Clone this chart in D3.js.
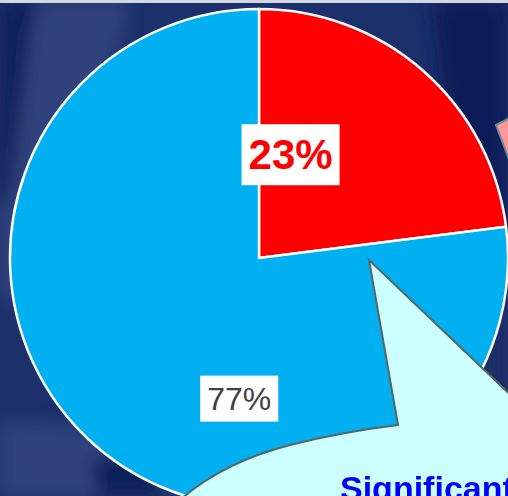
<!DOCTYPE html>
<html>
<head>
<meta charset="utf-8">
<script src="https://cdn.jsdelivr.net/npm/d3@7"></script>
<style>
  html, body { margin: 0; padding: 0; background: #1b2f6b; overflow: hidden; }
  svg { display: block; }
</style>
</head>
<body>
<div id="container"></div>
<script>
/* DATA */
const categories = ["Significant", "Other"];
const values = [23, 77];
const labels = ["23%", "77%"];
const colors = ["#ff0000", "#00b0f0"];

/* CONSTANTS */
const width = 508;
const height = 496;
const cx = 259, cy = 258, radius = 249;

const svg = d3.select("#container")
  .append("svg")
  .attr("width", width)
  .attr("height", height);

const defs = svg.append("defs");
defs.append("filter").attr("id", "blur")
  .attr("x", "-50%").attr("y", "-50%").attr("width", "200%").attr("height", "200%")
  .append("feGaussianBlur").attr("stdDeviation", 9);

// background: dark navy sky with some lighter streaks
svg.append("rect")
  .attr("width", width).attr("height", height)
  .attr("fill", "#1c306c");

const streaks = svg.append("g").attr("filter", "url(#blur)");
// light-ish diagonal bands
streaks.append("path").attr("d", "M40,0 L130,0 L60,300 L0,300 L0,150 Z").attr("fill", "#33477f").attr("opacity", 0.8);
streaks.append("path").attr("d", "M0,420 L140,430 L200,496 L0,496 Z").attr("fill", "#34487f").attr("opacity", 0.8);
// dark bands
streaks.append("path").attr("d", "M0,0 L35,0 L10,200 L0,200 Z").attr("fill", "#0c2058");
streaks.append("path").attr("d", "M430,0 L508,0 L508,300 L470,300 Z").attr("fill", "#0b1f58");
streaks.append("path").attr("d", "M90,460 L140,450 L170,496 L100,496 Z").attr("fill", "#0d2058");
streaks.append("path").attr("d", "M470,300 L508,300 L508,420 L480,420 Z").attr("fill", "#1a2d68");

// light strip at top
svg.append("rect").attr("width", width).attr("height", 3).attr("fill", "#d3d7df");

/* PIE */
const pie = d3.pie().sort(null).value(d => d)(values);
const arc = d3.arc().innerRadius(0).outerRadius(radius);

const g = svg.append("g").attr("transform", `translate(${cx},${cy})`);

g.selectAll("path.slice")
  .data(pie)
  .join("path")
  .attr("class", "slice")
  .attr("d", arc)
  .attr("fill", (d, i) => colors[i])
  .attr("stroke", "#ffffff")
  .attr("stroke-width", 2.5)
  .attr("stroke-linejoin", "round");

// labels: placed along polar offsets from centre
const labelPolar = [
  { angle: 17, r: 108, size: 42, weight: "bold", color: "#ff0000", padX: 7, padY: 11 },
  { angle: 188, r: 142, size: 32, weight: "normal", color: "#404040", padX: 7, padY: 9 }
];

pie.forEach((d, i) => {
  const p = labelPolar[i];
  const a = p.angle * Math.PI / 180;
  const x = Math.sin(a) * p.r;
  const y = -Math.cos(a) * p.r;
  const lg = g.append("g").attr("transform", `translate(${x},${y})`);
  const t = lg.append("text")
    .attr("text-anchor", "middle")
    .attr("dominant-baseline", "central")
    .attr("font-family", "Liberation Sans, Arial, sans-serif")
    .attr("font-size", p.size)
    .attr("font-weight", p.weight)
    .attr("fill", p.color)
    .text(labels[i]);
  const bb = t.node().getBBox();
  lg.insert("rect", "text")
    .attr("x", bb.x - p.padX)
    .attr("y", -bb.height / 2 - p.padY + 4)
    .attr("width", bb.width + p.padX * 2)
    .attr("height", bb.height + p.padY * 2 - 8)
    .attr("fill", "#ffffff");
});

/* CALLOUTS */
// pink callout pointer at right edge
svg.append("path")
  .attr("d", "M510,118 L496,125 L510,162")
  .attr("fill", "#ff9999")
  .attr("stroke", "#6f8f8f")
  .attr("stroke-width", 2);

// cyan speech bubble pointing at the red slice
svg.append("path")
  .attr("d", "M180,500 C205,478 240,458 290,445 C330,435 365,429 398,425 L369,260 L520,404 L520,500 Z")
  .attr("fill", "#ccffff")
  .attr("stroke", "#566666")
  .attr("stroke-width", 2)
  .attr("stroke-linejoin", "miter");

svg.append("text")
  .attr("x", 340)
  .attr("y", 500)
  .attr("font-family", "Liberation Sans, Arial, sans-serif")
  .attr("font-size", 34)
  .attr("font-weight", "bold")
  .attr("fill", "#0000ff")
  .text(categories[0]);
</script>
</body>
</html>
